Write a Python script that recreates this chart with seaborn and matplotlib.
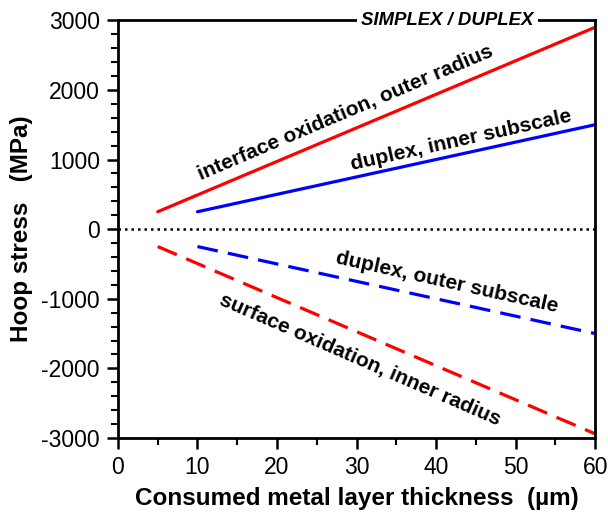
import matplotlib
matplotlib.use("Agg")
import matplotlib.pyplot as plt
from matplotlib.ticker import MultipleLocator
import seaborn as sns
import pandas as pd

# Hoop stress vs consumed metal layer thickness (endpoints of each linear trend)
x_interface = [5, 60]
y_interface = [250, 2900]
x_dup_inner = [10, 60]
y_dup_inner = [250, 1500]
x_dup_outer = [10, 60]
y_dup_outer = [-250, -1500]
x_surface = [5, 60]
y_surface = [-250, -2940]
labels = ["interface oxidation, outer radius", "duplex, inner subscale",
          "duplex, outer subscale", "surface oxidation, inner radius"]

sns.set_theme(style="white")
plt.rcParams["font.family"] = ["Liberation Sans", "DejaVu Sans"]
plt.rcParams["axes.unicode_minus"] = False
plt.rcParams["text.color"] = "black"
plt.rcParams["axes.labelcolor"] = "black"
plt.rcParams["xtick.color"] = "black"
plt.rcParams["ytick.color"] = "black"

fig = plt.figure(figsize=(6.08, 5.19), dpi=100)
ax = fig.add_axes([0.194, 0.156, 0.785, 0.805])

series = [
    (x_interface, y_interface, "#ff0000", "-"),
    (x_dup_inner, y_dup_inner, "#0000ff", "-"),
    (x_dup_outer, y_dup_outer, "#0000ff", "--"),
    (x_surface, y_surface, "#ff0000", "--"),
]
for xs, ys, col, ls in series:
    df = pd.DataFrame({"x": xs, "y": ys})
    sns.lineplot(data=df, x="x", y="y", color=col, lw=2.3, ax=ax)
    if ls == "--":
        ax.lines[-1].set_dashes((6.5, 3.2))

ax.axhline(0, color="black", lw=1.8, ls=(0, (1, 1.6)))

ax.set_xlim(0, 60)
ax.set_ylim(-3000, 3000)
ax.xaxis.set_major_locator(MultipleLocator(10))
ax.xaxis.set_minor_locator(MultipleLocator(5))
ax.yaxis.set_major_locator(MultipleLocator(1000))
ax.yaxis.set_minor_locator(MultipleLocator(200))
ax.tick_params(which="major", direction="out", length=8, width=1.8,
               labelsize=16.5, bottom=True, left=True, color="black", pad=5)
ax.tick_params(which="minor", direction="out", length=5, width=1.5,
               bottom=True, left=True, color="black")
for s in ax.spines.values():
    s.set_linewidth(2)
    s.set_color("black")

ax.set_xlabel("Consumed metal layer thickness  (\u00b5m)", fontsize=17.5,
              fontweight="bold", labelpad=6)
ax.set_ylabel("Hoop stress   (MPa)", fontsize=17.5, fontweight="bold", labelpad=6)

ax.text(0.69, 1.0, "SIMPLEX / DUPLEX", transform=ax.transAxes, ha="center",
        va="center", fontsize=13.4, fontweight="bold", style="italic",
        bbox=dict(facecolor="white", edgecolor="none", pad=3))

tkw = dict(fontsize=15, fontweight="bold", ha="center", va="center",
           rotation_mode="anchor", color="black")
ax.text(28.55, 1664, labels[0], rotation=23.0, **tkw)
ax.text(43.1, 1277, labels[1], rotation=12.5, **tkw)
ax.text(41.4, -770, labels[2], rotation=-12.5, **tkw)
ax.text(30.4, -1880, labels[3], rotation=-23.5, **tkw)

fig.savefig("out.png", dpi=100)
